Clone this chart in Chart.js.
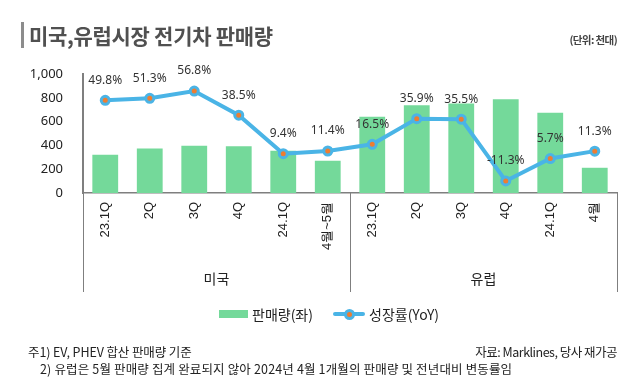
<!DOCTYPE html>
<html>
<head>
<meta charset="utf-8">
<script src="https://cdn.jsdelivr.net/npm/chart.js@4.4.1/dist/chart.umd.min.js"></script>
<style>
  html, body { margin:0; padding:0; background:#fff; }
  body { width:633px; height:381px; position:relative; overflow:hidden; font-family:"Noto Sans CJK KR","Noto Sans",sans-serif; }
  #wrap { position:absolute; left:0; top:0; width:633px; height:381px; }
  .abs { position:absolute; white-space:nowrap; }
  #tbar { left:21px; top:22px; width:3px; height:26px; background:#8c8c8c; }
  #title { left:29px; top:21px; font-size:21px; font-weight:bold; color:#505050; letter-spacing:-0.3px; line-height:28px; }
  #unit { right:16px; top:32px; font-size:10.5px; font-weight:bold; color:#444; letter-spacing:-0.6px; line-height:16px; }
  .fn { font-size:12.5px; color:#222; letter-spacing:-0.1px; line-height:14px; }
  #leg { left:0; top:304px; width:633px; height:20px; }
  .lg-txt { font-size:14px; color:#222; line-height:20px; top:0; }
</style>
</head>
<body>
<div id="wrap"><canvas id="c" width="633" height="381"></canvas></div>
<div class="abs" id="tbar"></div>
<div class="abs" id="title">미국,유럽시장 전기차 판매량</div>
<div class="abs" id="unit">(단위: 천대)</div>
<div class="abs" id="leg">
  <div class="abs" style="left:219px;top:6px;width:29px;height:8px;background:#74d99a;"></div>
  <div class="abs lg-txt" style="left:252px;">판매량(좌)</div>
  <div class="abs" style="left:333px;top:8px;width:32px;height:4px;background:#4ab4e6;border-radius:2px;"></div>
  <div class="abs" style="left:343.5px;top:4.5px;width:5px;height:5px;background:#ed7d31;border:3px solid #4ab4e6;border-radius:50%;"></div>
  <div class="abs lg-txt" style="left:369px;">성장률(YoY)</div>
</div>
<div class="abs fn" style="left:28px;top:345px;">주1) EV, PHEV 합산 판매량 기준</div>
<div class="abs fn" style="left:40px;top:362px;letter-spacing:0.15px;">2) 유럽은 5월 판매량 집계 완료되지 않아 2024년 4월 1개월의 판매량 및 전년대비 변동률임</div>
<div class="abs fn" style="right:16px;top:345px;letter-spacing:-0.5px;">자료: Marklines, 당사 재가공</div>
<script>
const categories = ["23.1Q","2Q","3Q","4Q","24.1Q","4월~5월","23.1Q","2Q","3Q","4Q","24.1Q","4월"];
const groups = ["미국","유럽"];
const groupSizes = [6, 6];
const salesValues = [322, 373, 398, 392, 356, 271, 641, 737, 752, 788, 675, 212];
const growthValues = [49.8, 51.3, 56.8, 38.5, 9.4, 11.4, 16.5, 35.9, 35.5, -11.3, 5.7, 11.3];
const yTicks = [0, 200, 400, 600, 800, 1000];

const groupPlugin = {
  id: 'groupPlugin',
  afterDraw(chart) {
    const ctx = chart.ctx;
    const x = chart.scales.x;
    const area = chart.chartArea;
    const bottom = 292;
    ctx.save();
    ctx.strokeStyle = '#7f7f7f';
    ctx.lineWidth = 1;
    let idx = 0;
    const bounds = [area.left];
    groupSizes.forEach((n) => {
      idx += n;
      const last = x.getPixelForValue(idx - 1);
      const half = (x.getPixelForValue(1) - x.getPixelForValue(0)) / 2;
      bounds.push(last + half);
    });
    bounds.forEach((bx, i) => {
      ctx.beginPath();
      const xx = Math.round(bx) + 0.5;
      ctx.moveTo(xx, i === 0 ? area.top : area.bottom);
      ctx.lineTo(xx, bottom);
      ctx.stroke();
    });
    ctx.fillStyle = '#222';
    ctx.font = '14px "Noto Sans CJK KR"';
    ctx.textAlign = 'center';
    ctx.textBaseline = 'middle';
    groups.forEach((g, i) => {
      ctx.fillText(g, (bounds[i] + bounds[i + 1]) / 2, 279);
    });
    ctx.restore();
  }
};

const labelPlugin = {
  id: 'labelPlugin',
  afterDatasetsDraw(chart) {
    const ctx = chart.ctx;
    const meta = chart.getDatasetMeta(1);
    ctx.save();
    ctx.fillStyle = '#333';
    ctx.font = '12px "Noto Sans"';
    ctx.textAlign = 'center';
    ctx.textBaseline = 'middle';
    meta.data.forEach((pt, i) => {
      ctx.fillText(growthValues[i].toFixed(1) + '%', pt.x, pt.y - 20);
    });
    ctx.restore();
  }
};

new Chart(document.getElementById('c'), {
  data: {
    labels: categories,
    datasets: [
      {
        type: 'bar',
        label: '판매량(좌)',
        data: salesValues,
        backgroundColor: '#74d99a',
        barPercentage: 0.58,
        categoryPercentage: 1,
        yAxisID: 'y',
        order: 2
      },
      {
        type: 'line',
        label: '성장률(YoY)',
        data: growthValues,
        borderColor: '#4ab4e6',
        borderWidth: 4,
        pointRadius: 4,
        pointBorderWidth: 3,
        pointBackgroundColor: '#ed7d31',
        pointBorderColor: '#4ab4e6',
        tension: 0,
        yAxisID: 'y2',
        order: 1
      }
    ]
  },
  options: {
    responsive: false,
    animation: false,
    layout: { padding: { left: 0, right: 16, top: 74, bottom: 88 } },
    plugins: { legend: { display: false }, tooltip: { enabled: false } },
    scales: {
      x: {
        offset: true,
        grid: { display: false, drawTicks: false },
        border: { display: true, color: '#7f7f7f', width: 1.5 },
        ticks: {
          minRotation: 90, maxRotation: 90, autoSkip: false, padding: 9,
          color: '#222', font: { family: '"Liberation Sans"', size: 13 }
        },
        afterFit(s) { s.height = 100; }
      },
      y: {
        min: 0, max: 1000,
        afterBuildTicks(s) { s.ticks = yTicks.map(v => ({ value: v })); },
        grid: { display: false, drawTicks: false },
        border: { display: true, color: '#7f7f7f', width: 2 },
        ticks: {
          padding: 20, color: '#222', font: { family: '"Noto Sans"', size: 13 },
          callback: v => v.toLocaleString('en-US')
        },
        afterFit(s) { s.width = 83; }
      },
      y2: {
        display: false,
        min: -20.4, max: 69.7
      }
    }
  },
  plugins: [groupPlugin, labelPlugin]
});
</script>
</body>
</html>
